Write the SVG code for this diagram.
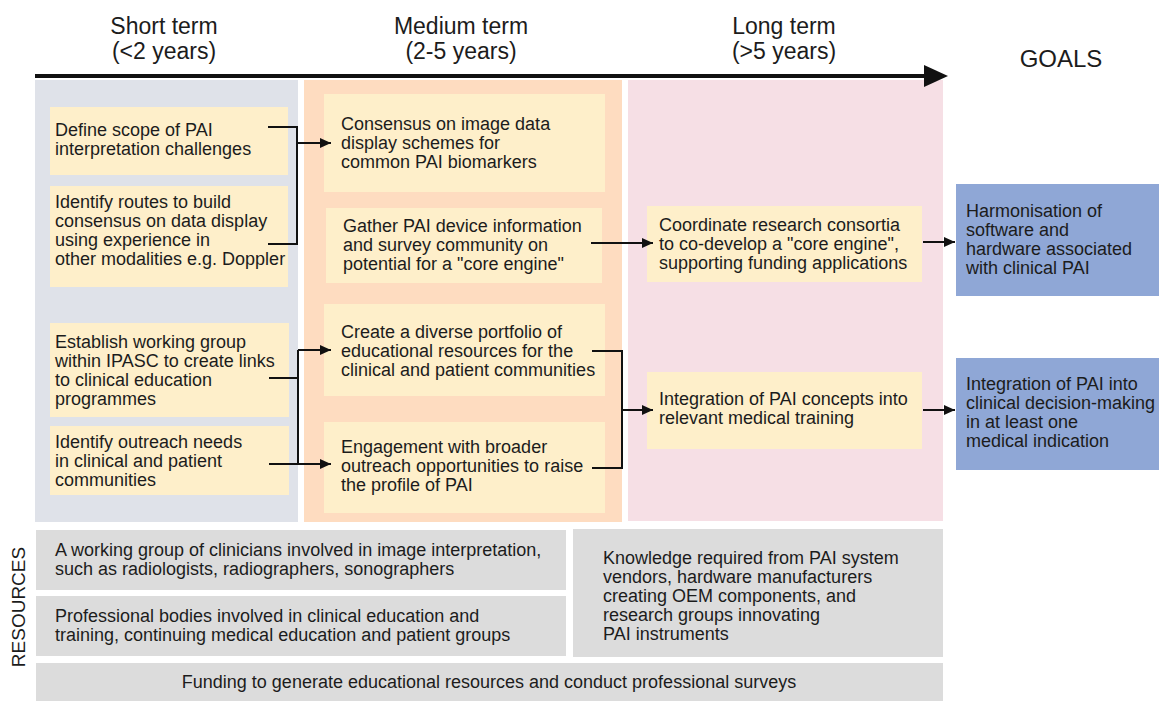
<svg xmlns="http://www.w3.org/2000/svg" width="1159" height="701" viewBox="0 0 1159 701">
<defs>
<style>
text{font-family:"Liberation Sans",Arial,Helvetica,sans-serif;fill:#1c1c1c;}
.hd{font-size:23px;text-anchor:middle;}
.t{font-size:18px;}
.box{fill:#feefca;}
.goal{fill:#8fa7d6;}
.res{fill:#dcdcdc;}
.conn{fill:none;stroke:#111;stroke-width:2;}
</style>
<marker id="ah" markerUnits="userSpaceOnUse" markerWidth="11" markerHeight="10" refX="11" refY="5" orient="auto">
<path d="M0,0 L11,5 L0,10 z" fill="#111"/>
</marker>
</defs>
<rect width="1159" height="701" fill="#ffffff"/>

<g id="columns">
<rect x="35" y="80" width="263" height="442" fill="#dfe2e9"/>
<rect x="304" y="80" width="318" height="442" fill="#fedcc0"/>
<rect x="628" y="80" width="315" height="441" fill="#f6dfe5"/>
</g>

<g id="header">
<text class="hd" x="164" y="34">Short term</text>
<text class="hd" x="164" y="59">(&lt;2 years)</text>
<text class="hd" x="461" y="34">Medium term</text>
<text class="hd" x="461" y="59">(2-5 years)</text>
<text class="hd" x="784" y="34">Long term</text>
<text class="hd" x="784" y="59">(&gt;5 years)</text>
<text x="1061" y="67" style="font-size:24px;text-anchor:middle">GOALS</text>
<line x1="35" y1="76" x2="926" y2="76" stroke="#111" stroke-width="4"/>
<polygon points="924,65 948,76 924,87" fill="#111"/>
</g>

<g id="n-define">
<rect class="box" x="50" y="107" width="238" height="68"/>
<text class="t" x="55" y="136">Define scope of PAI</text>
<text class="t" x="55" y="155">interpretation challenges</text>
</g>
<g id="n-routes">
<rect class="box" x="50" y="186" width="238" height="101"/>
<text class="t" x="55" y="208">Identify routes to build</text>
<text class="t" x="55" y="227">consensus on data display</text>
<text class="t" x="55" y="246">using experience in</text>
<text class="t" x="55" y="265">other modalities e.g. Doppler</text>
</g>
<g id="n-establish">
<rect class="box" x="50" y="323" width="239" height="94"/>
<text class="t" x="55" y="348">Establish working group</text>
<text class="t" x="55" y="367">within IPASC to create links</text>
<text class="t" x="55" y="386">to clinical education</text>
<text class="t" x="55" y="405">programmes</text>
</g>
<g id="n-outreach">
<rect class="box" x="50" y="426" width="239" height="69"/>
<text class="t" x="55" y="448">Identify outreach needs</text>
<text class="t" x="55" y="467">in clinical and patient</text>
<text class="t" x="55" y="486">communities</text>
</g>

<g id="n-consensus">
<rect class="box" x="324" y="94" width="281" height="98"/>
<text class="t" x="341" y="130">Consensus on image data</text>
<text class="t" x="341" y="149">display schemes for</text>
<text class="t" x="341" y="168">common PAI biomarkers</text>
</g>
<g id="n-gather">
<rect class="box" x="326" y="208" width="276" height="75"/>
<text class="t" x="343" y="232">Gather PAI device information</text>
<text class="t" x="343" y="251">and survey community on</text>
<text class="t" x="343" y="270">potential for a "core engine"</text>
</g>
<g id="n-create">
<rect class="box" x="324" y="304" width="281" height="92"/>
<text class="t" x="341" y="338">Create a diverse portfolio of</text>
<text class="t" x="341" y="357">educational resources for the</text>
<text class="t" x="341" y="376">clinical and patient communities</text>
</g>
<g id="n-engage">
<rect class="box" x="324" y="422" width="281" height="91"/>
<text class="t" x="341" y="453">Engagement with broader</text>
<text class="t" x="341" y="472">outreach opportunities to raise</text>
<text class="t" x="341" y="491">the profile of PAI</text>
</g>

<g id="n-coordinate">
<rect class="box" x="647" y="206" width="275" height="76"/>
<text class="t" x="659" y="231">Coordinate research consortia</text>
<text class="t" x="659" y="250">to co-develop a "core engine",</text>
<text class="t" x="659" y="269">supporting funding applications</text>
</g>
<g id="n-integration">
<rect class="box" x="647" y="372" width="275" height="77"/>
<text class="t" x="659" y="405">Integration of PAI concepts into</text>
<text class="t" x="659" y="424">relevant medical training</text>
</g>

<g id="g-harmonisation">
<rect class="goal" x="956" y="184" width="203" height="112"/>
<text class="t" x="966" y="217">Harmonisation of</text>
<text class="t" x="966" y="236">software and</text>
<text class="t" x="966" y="255">hardware associated</text>
<text class="t" x="966" y="274">with clinical PAI</text>
</g>
<g id="g-integration">
<rect class="goal" x="956" y="358" width="203" height="112"/>
<text class="t" x="966" y="390">Integration of PAI into</text>
<text class="t" x="966" y="409">clinical decision-making</text>
<text class="t" x="966" y="428">in at least one</text>
<text class="t" x="966" y="447">medical indication</text>
</g>

<g id="connectors">
<path class="conn" d="M268,127 H297 V244 H268"/>
<path class="conn" d="M297,143 H331" marker-end="url(#ah)"/>
<path class="conn" d="M591,243 H653" marker-end="url(#ah)"/>
<path class="conn" d="M923,242 H955" marker-end="url(#ah)"/>
<path class="conn" d="M269,378 H298"/>
<path class="conn" d="M298,350 V464"/>
<path class="conn" d="M298,350 H331" marker-end="url(#ah)"/>
<path class="conn" d="M269,464 H331" marker-end="url(#ah)"/>
<path class="conn" d="M592,351 H622 V468 H592"/>
<path class="conn" d="M622,410 H653" marker-end="url(#ah)"/>
<path class="conn" d="M923,410 H955" marker-end="url(#ah)"/>
</g>

<g id="resources">
<text x="18" y="607" style="font-size:19px;text-anchor:middle" transform="rotate(-90 18 607)" dy="7">RESOURCES</text>
<g id="r-clinicians">
<rect class="res" x="36" y="530" width="530" height="60"/>
<text class="t" x="55" y="556">A working group of clinicians involved in image interpretation,</text>
<text class="t" x="55" y="575">such as radiologists, radiographers, sonographers</text>
</g>
<g id="r-bodies">
<rect class="res" x="36" y="596" width="530" height="60"/>
<text class="t" x="55" y="622">Professional bodies involved in clinical education and</text>
<text class="t" x="55" y="641">training, continuing medical education and patient groups</text>
</g>
<g id="r-knowledge">
<rect class="res" x="573" y="529" width="370" height="128"/>
<text class="t" x="603" y="564">Knowledge required from PAI system</text>
<text class="t" x="603" y="583">vendors, hardware manufacturers</text>
<text class="t" x="603" y="602">creating OEM components, and</text>
<text class="t" x="603" y="621">research groups innovating</text>
<text class="t" x="603" y="640">PAI instruments</text>
</g>
<g id="r-funding">
<rect class="res" x="36" y="663" width="907" height="38"/>
<text class="t" x="489" y="688" style="text-anchor:middle">Funding to generate educational resources and conduct professional surveys</text>
</g>
</g>
</svg>
